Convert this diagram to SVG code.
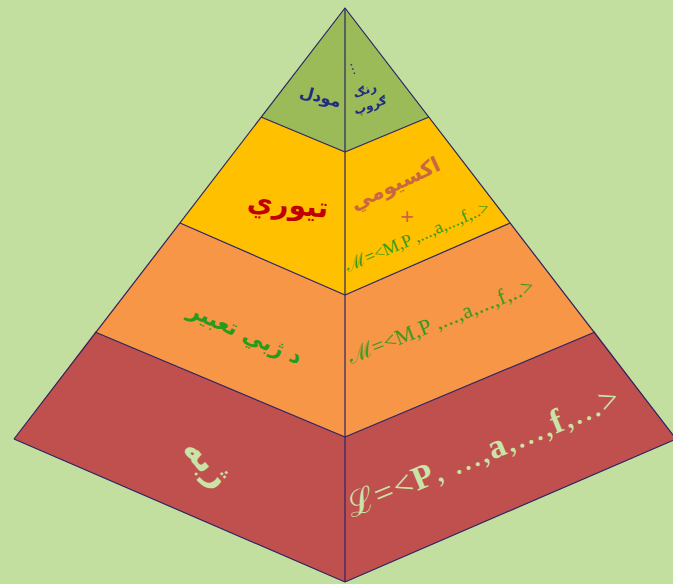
<svg xmlns="http://www.w3.org/2000/svg" width="673" height="584" viewBox="0 0 673 584">
  <style>
    .face { stroke: none; }
    .green { fill: #9BBB59; }
    .yellow { fill: #FFC000; }
    .orange { fill: #F79646; }
    .red { fill: #C0504D; }
    .edge { fill: none; stroke: #2A2466; stroke-width: 1.2; stroke-linejoin: round; }
    .ar { font-family: "DejaVu Sans", "Noto Sans", sans-serif; font-weight: bold; }
    .lat { font-family: "Liberation Serif", "DejaVu Serif", serif; }
    .navy { fill: #1F2C80; }
  </style>
  <rect x="0" y="0" width="673" height="584" fill="#C3DF9F"/>

  <g id="tier-model">
    <polygon class="face green" points="345,8 261,117 345,152"/>
    <polygon class="face green" points="345,8 429,117 345,152"/>
    <text class="ar navy" font-size="16" text-anchor="middle" transform="translate(319,102) rotate(15)">مودل</text>
    <g transform="translate(366,94) rotate(-20)">
      <text class="navy" font-family="DejaVu Sans, sans-serif" font-size="13" text-anchor="middle" x="-4" y="-24">⋮</text>
      <text class="ar navy" font-size="12" font-weight="normal" text-anchor="middle" x="0" y="0">رنګ</text>
      <text class="ar navy" font-size="12" font-weight="normal" text-anchor="middle" x="0" y="16">ګروپ</text>
    </g>
  </g>

  <g id="tier-theory">
    <polygon class="face yellow" points="261,117 345,152 345,295 180,223"/>
    <polygon class="face yellow" points="429,117 345,152 345,295 510,223"/>
    <text class="ar" fill="#C00000" font-size="28" text-anchor="middle" transform="translate(287,214) rotate(5)">تیوري</text>
    <text class="ar" fill="#C9683E" font-size="21" text-anchor="middle" transform="translate(398,190) rotate(-25)">اکسیومي</text>
    <text class="lat" fill="#C9683E" font-size="24" font-weight="bold" text-anchor="middle" x="407" y="224">+</text>
    <text class="lat" fill="#3A9A1E" font-size="18" transform="translate(348,272) rotate(-23)" textLength="155" lengthAdjust="spacing">ℳ=&lt;M,P ,...,a,...,f,..&gt;</text>
  </g>

  <g id="tier-expression">
    <polygon class="face orange" points="180,223 345,295 345,437 95,332"/>
    <polygon class="face orange" points="510,223 345,295 345,437 595,332"/>
    <text class="ar" fill="#2A9A1A" font-size="22" text-anchor="middle" transform="translate(242,340) rotate(24)">د ژبي تعبير</text>
    <text class="lat" fill="#3A9A1E" font-size="22" transform="translate(351,364) rotate(-21.5)" textLength="198" lengthAdjust="spacing">ℳ=&lt;M,P ,...,a,...,f,..&gt;</text>
  </g>

  <g id="tier-language">
    <polygon class="face red" points="95,332 345,437 345,582 14,439"/>
    <polygon class="face red" points="595,332 345,437 345,582 676,439"/>
    <text class="ar" fill="#C9E3A8" font-size="34" text-anchor="middle" transform="translate(199,470) rotate(48)">ژبه</text>
    <text class="lat" fill="#C9E3A8" font-size="34" transform="translate(352,518) rotate(-22.5)" textLength="292" lengthAdjust="spacing">ℒ=&lt;<tspan font-weight="bold">P</tspan>, ...,<tspan font-weight="bold">a</tspan>,...,<tspan font-weight="bold">f</tspan>,...&gt;</text>
  </g>

  <g id="connectors">
    <polyline class="edge" points="14,439 345,8 676,439"/>
    <polyline class="edge" points="14,439 345,582 676,439"/>
    <line class="edge" x1="345" y1="8" x2="345" y2="582"/>
    <polyline class="edge" points="261,117 345,152 429,117"/>
    <polyline class="edge" points="180,223 345,295 510,223"/>
    <polyline class="edge" points="95,332 345,437 595,332"/>
  </g>
</svg>
